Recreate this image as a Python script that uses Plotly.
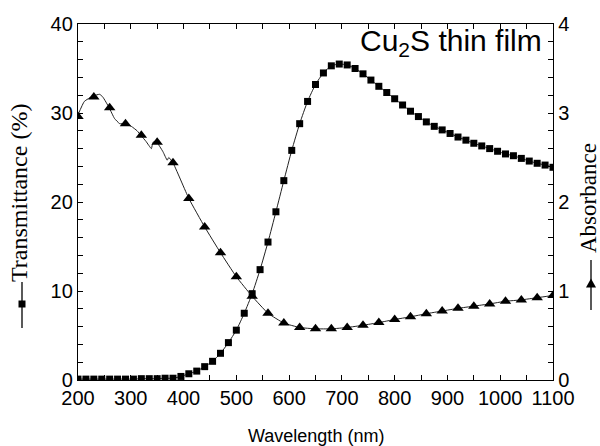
import plotly.graph_objects as go

# ---------------- data ----------------
trans_wl = list(range(200, 1101, 15))
trans_val = [0.1, 0.1, 0.1, 0.1, 0.1, 0.1, 0.1, 0.1, 0.15, 0.15,
             0.15, 0.2, 0.2, 0.4, 0.7, 1.0, 1.5, 2.1, 3.0, 4.2,
             5.6, 7.5, 9.7, 12.4, 15.5, 18.9, 22.4, 25.8, 28.8, 31.3,
             33.2, 34.5, 35.3, 35.5, 35.4, 35.0, 34.4, 33.7, 33.0, 32.3,
             31.6, 30.9, 30.2, 29.6, 29.0, 28.5, 28.1, 27.7, 27.3, 26.95,
             26.6, 26.3, 26.0, 25.7, 25.4, 25.2, 24.9, 24.6, 24.35, 24.15,
             23.9]

abs_wl = list(range(200, 1101, 30))
abs_val = [2.96, 3.18, 3.06, 2.88, 2.75, 2.67, 2.44, 2.04, 1.72, 1.43,
           1.16, 0.94, 0.75, 0.64, 0.59, 0.575, 0.575, 0.59, 0.615, 0.645,
           0.68, 0.71, 0.745, 0.775, 0.805, 0.83, 0.855, 0.885, 0.90, 0.925,
           0.95]

# measured absorbance curve (denser than the markers in the UV part)
abs_line_wl = [200, 212, 228, 241, 247, 259, 269, 279, 288, 301, 312, 319,
               329, 339, 342, 348, 361, 369, 372, 380, 410, 440, 470, 500,
               530, 560, 590, 620, 650, 680, 710, 740, 770, 800, 830, 860,
               890, 920, 950, 980, 1010, 1040, 1070, 1100]
abs_line_val = [2.98, 3.13, 3.19, 3.21, 3.18, 3.06, 2.94, 2.88, 2.88, 2.85,
                2.80, 2.75, 2.68, 2.60, 2.67, 2.68, 2.565, 2.47, 2.50, 2.44,
                2.04, 1.72, 1.43, 1.16, 0.94, 0.75, 0.64, 0.59, 0.575, 0.575,
                0.59, 0.615, 0.645, 0.68, 0.71, 0.745, 0.775, 0.805, 0.83,
                0.855, 0.885, 0.90, 0.925, 0.95]

x_ticks = [200, 300, 400, 500, 600, 700, 800, 900, 1000, 1100]
y1_ticks = [0, 10, 20, 30, 40]
y2_ticks = [0, 1, 2, 3, 4]

# ---------------- geometry helpers (pixel -> paper) ----------------
W, H = 600, 446
L, R, T, B = 78, 553, 24, 380


def px(x):
    return (x - L) / (R - L)


def py(y):
    return (B - y) / (B - T)


LINE = "#222222"
fig = go.Figure()

fig.add_trace(go.Scatter(
    x=trans_wl, y=trans_val, mode="lines+markers",
    line=dict(color=LINE, width=1, shape="spline", smoothing=0.6),
    marker=dict(symbol="square", size=7, color="black"),
    yaxis="y", showlegend=False))

fig.add_trace(go.Scatter(
    x=abs_line_wl, y=abs_line_val, mode="lines",
    line=dict(color=LINE, width=1, shape="spline", smoothing=0.4),
    yaxis="y2", showlegend=False))

fig.add_trace(go.Scatter(
    x=abs_wl, y=abs_val, mode="markers",
    marker=dict(symbol="triangle-up", size=10, color="black"),
    yaxis="y2", showlegend=False))

axis_common = dict(
    showgrid=False, zeroline=False, showline=True, linecolor="black",
    linewidth=1.3, ticks="inside", ticklen=5, tickwidth=1.2,
    tickcolor="black", tickfont=dict(family="Arial, Liberation Sans", size=20, color="black"),
)

fig.update_layout(
    width=W, height=H,
    margin=dict(l=L, r=W - R, t=T, b=H - B),
    paper_bgcolor="white", plot_bgcolor="white",
    xaxis=dict(range=[200, 1100], tickvals=x_ticks, mirror="ticks",
               minor=dict(dtick=50, ticks="inside", ticklen=5, tickcolor="black", tickwidth=1.2),
               **axis_common),
    yaxis=dict(range=[0, 40], tickvals=y1_ticks,
               minor=dict(dtick=2, ticks="inside", ticklen=5, tickcolor="black", tickwidth=1.2),
               **axis_common),
    yaxis2=dict(range=[0, 4], tickvals=y2_ticks, overlaying="y", side="right",
                minor=dict(dtick=0.2, ticks="inside", ticklen=5, tickcolor="black", tickwidth=1.2),
                **axis_common),
)

serif = "Liberation Serif, Times New Roman, serif"
sans = "Arial, Liberation Sans, sans-serif"

annotations = [
    dict(text="Wavelength (nm)", x=px(316), y=py(436), xref="paper", yref="paper",
         xanchor="center", yanchor="middle", showarrow=False,
         font=dict(family=sans, size=18, color="black")),
    dict(text="Cu<sub>2</sub>S thin film", x=px(544), y=py(22), xref="paper", yref="paper",
         xanchor="right", yanchor="top", showarrow=False,
         font=dict(family=sans, size=30, color="black")),
    dict(text="Transmittance (%)", x=px(19), y=py(193), xref="paper", yref="paper",
         xanchor="center", yanchor="middle", showarrow=False, textangle=-90,
         font=dict(family=serif, size=24, color="black")),
    dict(text="Absorbance", x=px(588), y=py(198), xref="paper", yref="paper",
         xanchor="center", yanchor="middle", showarrow=False, textangle=-90,
         font=dict(family=serif, size=23, color="black")),
]
fig.update_layout(annotations=annotations)

shapes = [
    # left title symbol: line with square
    dict(type="line", xref="paper", yref="paper", x0=px(22), x1=px(22), y0=py(282), y1=py(328),
         line=dict(color="black", width=1.3)),
    dict(type="rect", xref="paper", yref="paper", x0=px(18.5), x1=px(25.5), y0=py(300.5), y1=py(307.5),
         fillcolor="black", line=dict(width=0)),
    # right title symbol: line with triangle
    dict(type="line", xref="paper", yref="paper", x0=px(591), x1=px(591), y0=py(260), y1=py(310),
         line=dict(color="black", width=1.3)),
    dict(type="path", xref="paper", yref="paper",
         path=f"M {px(586)},{py(287.5)} L {px(596)},{py(287.5)} L {px(591)},{py(278.5)} Z",
         fillcolor="black", line=dict(width=0)),
]
fig.update_layout(shapes=shapes)

fig.write_html("out.html")
